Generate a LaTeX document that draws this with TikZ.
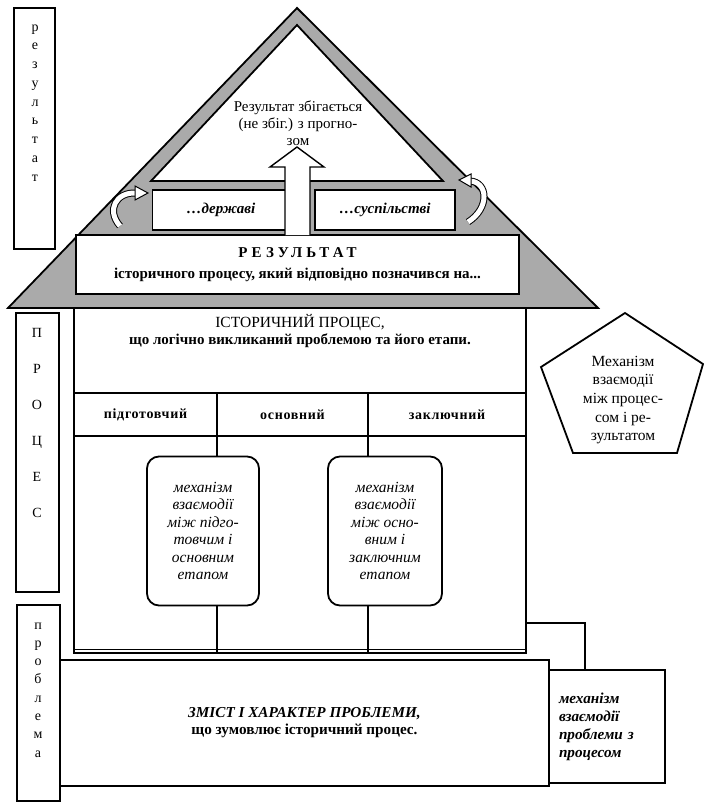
\documentclass[tikz,border=0pt]{standalone}
\usepackage{fontspec}
\setmainfont{Liberation Serif}
\usetikzlibrary{positioning}
\definecolor{roofgray}{RGB}{170,170,170}

\begin{document}
\begin{tikzpicture}[x=1pt,y=-1pt,
  wall/.style={line width=1.8pt},
  box/.style={draw,line width=1.8pt,fill=white,inner sep=0pt,outer sep=0pt},
  stagebox/.style={box,minimum height=43,font=\fontsize{14}{16}\selectfont\bfseries\addfontfeature{LetterSpace=5}},
  mechbox/.style={box,rounded corners=12pt,minimum width=112,minimum height=149,align=center,font=\fontsize{15.5}{17.5}\selectfont\itshape},
  letter/.style={anchor=base,font=\fontsize{14}{16}\selectfont}]
\useasboundingbox (0,0) rectangle (704,804);

% roof
\draw[wall,fill=roofgray] (297,8) -- (8,308) -- (598,308) -- cycle;
\draw[wall,fill=white] (297,25) -- (151,181) -- (443,181) -- cycle;
\node[align=center,font=\fontsize{15}{17}\selectfont] (forecast) at (298,123) {Результат збігається\\(не збіг.) з прогно-\\зом};
\node[box,minimum width=137,minimum height=40,font=\fontsize{15}{17}\selectfont\bfseries\itshape] (state) at (221,210) {\dots державі};
\node[box,minimum width=140,minimum height=40,font=\fontsize{15}{17}\selectfont\bfseries\itshape] (society) at (385,210) {\dots суспільстві};
\node[box,minimum width=443,minimum height=59,align=center,font=\fontsize{15}{21}\selectfont\bfseries] (result) at (297.5,264.5) {{\addfontfeature{LetterSpace=28}РЕЗУЛЬТАТ}\\історичного процесу, який відповідно позначився на...};
\draw[line width=1.4pt,fill=white] (285,235) -- (285,167) -- (270,167) -- (297,147) -- (324,167) -- (310,167) -- (310,235);
\draw[line width=1pt,double=white,double distance=5pt] (120,226) .. controls (106,210) and (116,192) .. (136,193);
\draw[line width=1pt,fill=white] (135,186) -- (148,193) -- (135,200) -- cycle;
\draw[line width=1pt,double=white,double distance=5pt] (468,222) .. controls (490,208) and (488,182) .. (470,181);
\draw[line width=1pt,fill=white] (471,174) -- (459,180) -- (471,187) -- cycle;

% process
\node[box,minimum width=452,minimum height=345,anchor=north west] (process) at (74,308) {};
\node[box,minimum width=452,minimum height=85,anchor=north west] (hist) at (74,308) {};
\node[align=center,below=3pt of hist.north,font=\fontsize{15.5}{17}\selectfont] (histtext) {ІСТОРИЧНИЙ ПРОЦЕС,\\\textbf{\fontsize{15}{17}\selectfont що логічно викликаний проблемою та його етапи.}};
\node[stagebox,minimum width=143,anchor=north west] (s1) at (hist.south west) {підготовчий};
\node[stagebox,minimum width=151,right=0pt of s1] (s2) {основний};
\node[stagebox,minimum width=158,right=0pt of s2] (s3) {заключний};
\node[mechbox] (m1) at (203,531) {механізм\\взаємодії\\між підго-\\товчим і\\основним\\етапом};
\node[mechbox,minimum width=114] (m2) at (385,531) {механізм\\взаємодії\\між осно-\\вним і\\заключним\\етапом};
\foreach \s/\m in {s1/m1,s2/m2} {
  \draw[wall] (\s.south east) -- (\s.south east |- \m.north);
  \draw[wall] (\s.south east |- \m.south) -- (\s.south east |- process.south);
}
\draw[line width=0.8pt] ([yshift=4pt]process.south west) -- ([yshift=4pt]process.south east);

% problem
\node[box,minimum width=489,minimum height=126,anchor=north west,align=center,font=\fontsize{15.2}{17}\selectfont\bfseries] (problem) at (60,660) {\textit{ЗМІСТ І ХАРАКТЕР ПРОБЛЕМИ,}\\що зумовлює історичний процес.};
\node[box,minimum width=116,minimum height=113,anchor=north west,text width=96,align=left,font=\fontsize{15.2}{18}\selectfont\bfseries\itshape] (mechPP) at (549,670) {механізм\\взаємодії\\проблеми з\\процесом};
\coordinate (procjoint) at (526,623);
\draw[wall] (procjoint) -| ([xshift=-22pt]mechPP.north);

% pentagon
\draw[wall] (625,313) -- (703,364) -- (677,453) -- (573,453) -- (541,367) -- cycle;
\node[align=center,font=\fontsize{15.5}{18.7}\selectfont] (mechPR) at (623,400) {Механізм\\взаємодії\\між процес-\\сом і ре-\\зультатом};

% side labels
\node[box,minimum width=41,minimum height=241,anchor=north west] (lres) at (14,8) {};
\node[box,minimum width=43,minimum height=279,anchor=north west] (lproc) at (16,313) {};
\node[box,minimum width=43,minimum height=196,anchor=north west] (lprob) at (17,605) {};
\foreach \ch [count=\i from 0] in {р,е,з,у,л,ь,т,а,т}
  \node[letter] (lr\i) at (35,31+18.75*\i) {\ch};
\foreach \ch [count=\i from 0] in {П,Р,О,Ц,Е,С}
  \node[letter] (lp\i) at (37,337+36*\i) {\ch};
\foreach \ch [count=\i from 0] in {п,р,о,б,л,е,м,а}
  \node[letter] (lb\i) at (38,629+18.3*\i) {\ch};
\end{tikzpicture}
\end{document}
